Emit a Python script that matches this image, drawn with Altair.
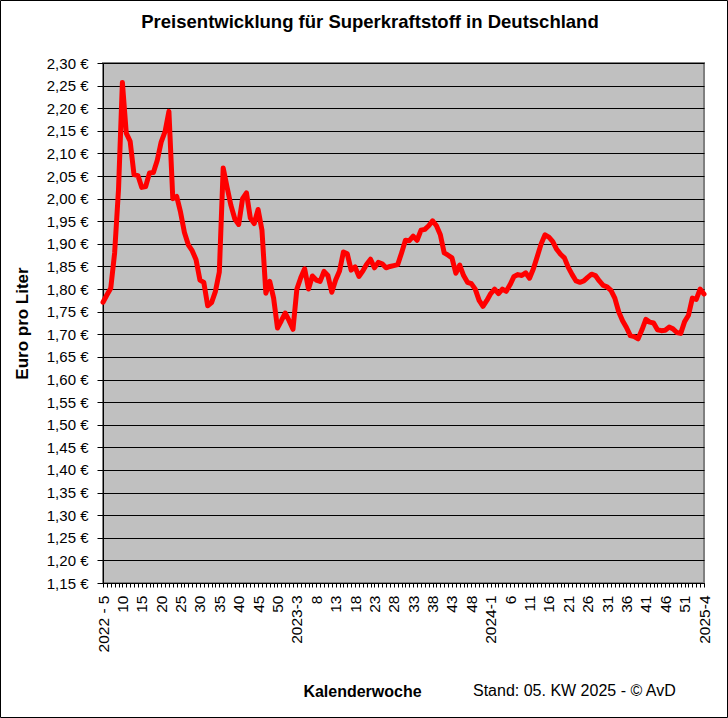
import altair as alt
import pandas as pd

TITLE = "Preisentwicklung für Superkraftstoff in Deutschland"
Y_TITLE = "Euro pro Liter"
X_TITLE = "Kalenderwoche"
FOOTER = "Stand: 05. KW 2025 - © AvD"

# weekly prices, 2022-KW5 ... 2025-KW4 (156 weeks)
PRICES = [
    1.771, 1.787, 1.802, 1.880, 2.020, 2.257, 2.145, 2.127, 2.053, 2.051,
    2.025, 2.027, 2.057, 2.058, 2.085, 2.125, 2.148, 2.193, 2.000, 2.005,
    1.970, 1.925, 1.898, 1.885, 1.865, 1.820, 1.815, 1.763, 1.770, 1.795,
    1.838, 2.068, 2.025, 1.985, 1.955, 1.943, 2.000, 2.013, 1.957, 1.945,
    1.976, 1.930, 1.791, 1.817, 1.780, 1.714, 1.730, 1.747, 1.730, 1.711,
    1.800, 1.825, 1.845, 1.800, 1.829, 1.820, 1.817, 1.839, 1.830, 1.793,
    1.820, 1.840, 1.882, 1.878, 1.842, 1.849, 1.828, 1.840, 1.855, 1.866,
    1.847, 1.859, 1.856, 1.847, 1.850, 1.852, 1.854, 1.880, 1.908, 1.907,
    1.917, 1.908, 1.930, 1.932, 1.940, 1.951, 1.940, 1.920, 1.880, 1.875,
    1.869, 1.835, 1.853, 1.830, 1.815, 1.812, 1.800, 1.775, 1.762, 1.775,
    1.790, 1.800, 1.790, 1.800, 1.795, 1.810, 1.828, 1.832, 1.830, 1.836,
    1.824, 1.845, 1.872, 1.900, 1.920, 1.915, 1.905, 1.888, 1.877, 1.869,
    1.848, 1.832, 1.818, 1.815, 1.818, 1.826, 1.833, 1.830, 1.818, 1.808,
    1.805, 1.797, 1.780, 1.750, 1.730, 1.715, 1.697, 1.695, 1.690, 1.710,
    1.733, 1.727, 1.725, 1.710, 1.708, 1.709, 1.716, 1.712, 1.704, 1.702,
    1.728, 1.742, 1.780, 1.777, 1.800, 1.789,
]
WEEK_INDEX = list(range(len(PRICES)))

# labels shown at every 5th week
TICK_LABELS = [
    "2022 - 5", "10", "15", "20", "25", "30", "35", "40", "45", "50",
    "2023-3", "8", "13", "18", "23", "28", "33", "38", "43", "48",
    "2024-1", "6", "11", "16", "21", "26", "31", "36", "41", "46", "51",
    "2025-4",
]
Y_TICKS = [round(1.15 + 0.05 * k, 2) for k in range(24)]

FONT = "Liberation Sans"
W, H = 601, 520
PAD = {"left": 103, "top": 63, "right": 24, "bottom": 135}

df = pd.DataFrame({"idx": WEEK_INDEX, "price": PRICES})
labels_js = "[" + ",".join("'" + s + "'" for s in TICK_LABELS) + "]"

x_axis = alt.Axis(
    values=WEEK_INDEX,
    labelExpr=f"datum.value % 5 == 0 ? {labels_js}[datum.value / 5] : ''",
    labelAngle=270,
    labelFont=FONT, labelFontSize=15.5, labelColor="black",
    labelOverlap=False, labelFlush=False, labelPadding=8,
    tickSize=4, tickColor="black", tickWidth=1,
    domainColor="black", domainWidth=1,
    grid=False,
    title=X_TITLE, titleFont=FONT, titleFontSize=16, titleFontWeight="bold",
    titleColor="black", titleX=259, titleY=108, titleBaseline="middle",
    titleAlign="center",
)
y_axis = alt.Axis(
    values=Y_TICKS,
    labelExpr="replace(format(datum.value, '.2f'), '.', ',') + ' €'",
    labelFont=FONT, labelFontSize=15, labelColor="black", labelPadding=9,
    tickSize=6, tickColor="black", tickWidth=1,
    domainColor="black", domainWidth=1,
    grid=True, gridColor="black", gridWidth=1, gridOpacity=1,
    title=Y_TITLE, titleFont=FONT, titleFontSize=17, titleFontWeight="bold",
    titleColor="black", titleAngle=270, titleX=-81, titleY=260,
    titleAlign="center", titleBaseline="middle",
)

line = alt.Chart(df).mark_line(
    color="#FF0000", strokeWidth=5, strokeJoin="round", strokeCap="round"
).encode(
    x=alt.X("idx:Q", scale=alt.Scale(domain=[0, len(PRICES) - 1], nice=False, zero=False), axis=x_axis),
    y=alt.Y("price:Q", scale=alt.Scale(domain=[1.15, 2.30], nice=False, zero=False), axis=y_axis),
)

text_df = pd.DataFrame({"title": [TITLE], "footer": [FOOTER]})
title = alt.Chart(text_df).mark_text(
    font=FONT, fontSize=18.5, fontWeight="bold", color="black",
    align="center", baseline="alphabetic"
).encode(text="title:N", x=alt.value(267), y=alt.value(-35))

footer = alt.Chart(text_df).mark_text(
    font=FONT, fontSize=16, color="black", align="left", baseline="middle"
).encode(text="footer:N", x=alt.value(370), y=alt.value(H + 108))

frame = alt.Chart(text_df).mark_rect(
    filled=False, stroke="black", strokeWidth=1
).encode(
    x=alt.value(-PAD["left"] + 0.5), x2=alt.value(W + PAD["right"] - 0.5),
    y=alt.value(-PAD["top"] + 0.5), y2=alt.value(H + PAD["bottom"] - 0.5),
)

chart = alt.layer(line, title, footer, frame).properties(
    width=W, height=H,
    autosize=alt.AutoSizeParams(type="none"),
    padding=PAD,
    background="white",
).configure_view(
    fill="#C0C0C0", stroke="#808080", strokeWidth=2
)

chart.save("out.html", embed_options={"renderer": "svg", "actions": False})
